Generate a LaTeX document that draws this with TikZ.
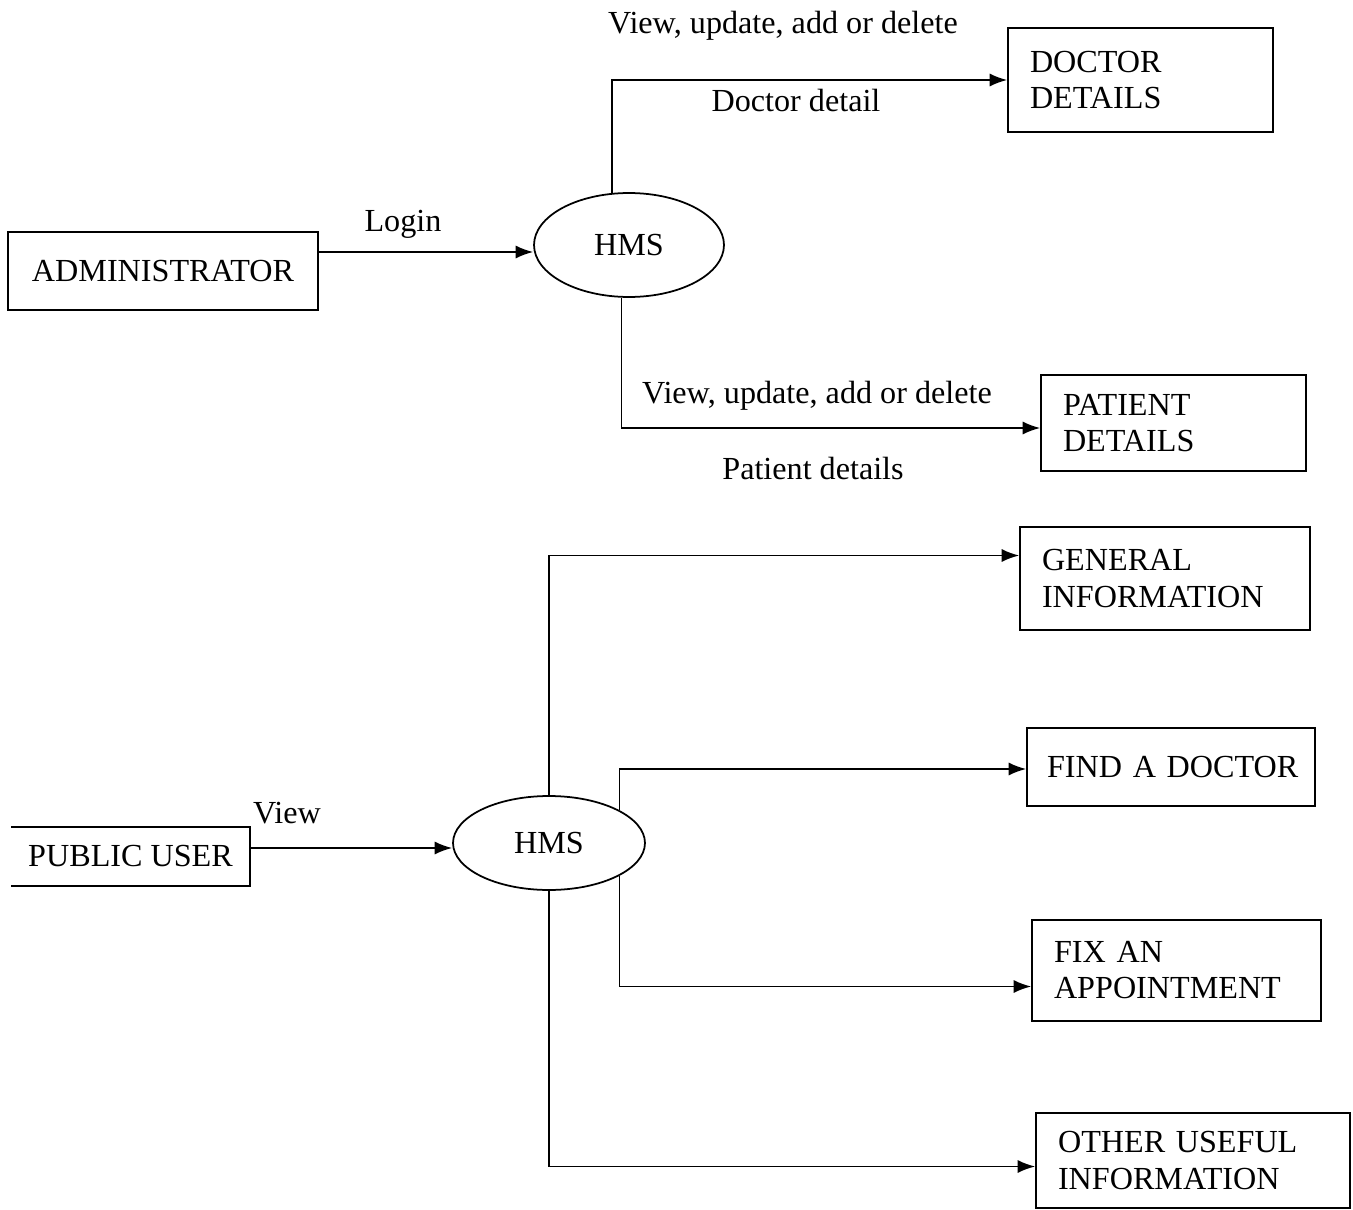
\documentclass[tikz,border=0pt]{standalone}
\usepackage{fontspec}
\setmainfont{Liberation Serif}
\usetikzlibrary{arrows.meta,shapes.geometric,calc}
\newcommand\dfont{\fontsize{18.3}{20.5}\selectfont}
\begin{document}
\begin{tikzpicture}[x=0.02cm,y=-0.02cm,
  box/.style={draw, line width=1pt, inner xsep=0.44cm, inner ysep=0pt, align=left, font=\dfont},
  plainbox/.style={line width=1pt, inner sep=0pt, align=center, font=\dfont},
  proc/.style={draw, ellipse, line width=1pt, inner sep=0pt, font=\dfont},
  arr/.style={line width=1pt, -{Latex[length=10pt,width=7.5pt]}},
  lbl/.style={inner sep=0pt, font=\dfont}]
\useasboundingbox (0,0) rectangle (1353,1210);

% upper part
\node[plainbox, draw, minimum width=6.2cm, minimum height=1.56cm] (adm) at (163,271) {ADMINISTRATOR};
\node[proc, minimum width=3.8cm, minimum height=2.08cm] (h1) at (629,245) {HMS};
\node[box, text width=4.42cm, minimum height=2.08cm] (dd) at (1140.5,80) {DOCTOR\\DETAILS};
\node[box, text width=4.42cm, minimum height=1.92cm] (pd) at (1173.5,423) {PATIENT\\DETAILS};

\coordinate (a1) at ($(h1.west)+(0,7)$);
\draw[arr] (adm.east |- a1) -- (a1);
\draw[arr] (h1.108) |- (dd.west);
\draw[arr] (h1.262) |- ($(pd.west)+(0,5)$);

\node[lbl] (l1) at (403,224) {Login};
\node[lbl] (l2) at (783,26) {View, update, add or delete};
\node[lbl] (l3) at (796,101) {Doctor detail};
\node[lbl] (l4) at (817,396) {View, update, add or delete};
\node[lbl] (l5) at (813,468) {Patient details};

% lower part
\node[plainbox, minimum width=4.74cm, minimum height=1.14cm] (pu) at (130.5,856.5) {PUBLIC USER};
\draw[line width=1pt] (pu.north west) -- (pu.north east) -- (pu.south east) -- (pu.south west);
\node[proc, minimum width=3.84cm, minimum height=1.88cm] (h2) at (549,843) {HMS};
\node[box, text width=4.92cm, minimum height=2.06cm] (gi) at (1165,578.5) {GENERAL\\INFORMATION};
\node[box, inner xsep=0.4cm, text width=4.96cm, minimum height=1.56cm] (fd) at (1171,767) {\mbox{FIND A DOCTOR}};
\node[box, text width=4.90cm, minimum height=2.02cm] (fa) at (1176.5,970.5) {FIX AN\\APPOINTMENT};
\node[box, text width=5.40cm, minimum height=1.9cm] (ou) at (1193,1160.5) {OTHER USEFUL\\INFORMATION};

\coordinate (a2) at ($(h2.west)+(0,5)$);
\draw[arr] (pu.east |- a2) -- (a2);
\draw[arr] (h2.north) |- ($(gi.west)+(0,-23)$);
\draw[arr] (h2.25) |- ($(fd.west)+(0,2)$);
\draw[arr] (h2.-25) |- ($(fa.west)+(0,16)$);
\draw[arr] (h2.south) |- ($(ou.west)+(0,6)$);

\node[lbl] (l6) at (287,813) {View};
\end{tikzpicture}
\end{document}
